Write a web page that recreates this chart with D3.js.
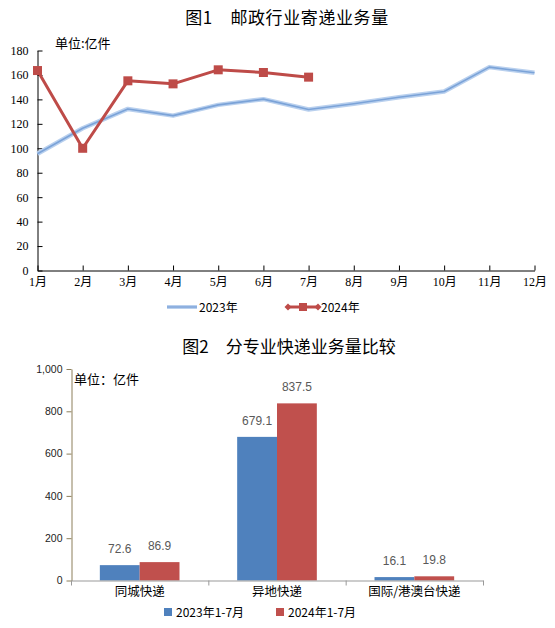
<!DOCTYPE html>
<html>
<head>
<meta charset="utf-8">
<script src="https://cdn.jsdelivr.net/npm/d3@7"></script>
<style>
  html, body { margin: 0; padding: 0; background: #fff; }
  svg { display: block; }
</style>
</head>
<body>
<svg id="chart" width="555" height="628"></svg>
<script>
// 图1 data
const months = ["1月", "2月", "3月", "4月", "5月", "6月", "7月", "8月", "9月", "10月", "11月", "12月"];
const vol2023 = [95.5, 116.4, 132.2, 126.7, 135.5, 140.2, 131.7, 136.4, 141.8, 146.5, 166.4, 161.8];
const vol2024 = [163.6, 100.0, 155.2, 152.7, 164.2, 162.0, 158.2];
const yTicks1 = [0, 20, 40, 60, 80, 100, 120, 140, 160, 180];
const lineNames = ["2023年", "2024年"];

// 图2 data
const categories = ["同城快递", "异地快递", "国际/港澳台快递"];
const bar2023 = [72.6, 679.1, 16.1];
const bar2024 = [86.9, 837.5, 19.8];
const yTicks2 = [0, 200, 400, 600, 800, 1000];
const barNames = ["2023年1-7月", "2024年1-7月"];

const cjk = "'Noto Sans CJK SC', 'Noto Sans', sans-serif";
const serif = "'Liberation Serif', 'Noto Sans CJK SC', serif";
const sans = "'Liberation Sans', 'Noto Sans CJK SC', sans-serif";

const blue = "#4f81bd";
const red = "#c0504d";
const lineRed = "#be4b48";

const svg = d3.select("#chart");

// ---------- chart 1 : line chart ----------
const g1 = svg.append("g");

g1.append("text")
    .attr("x", 287).attr("y", 24)
    .attr("text-anchor", "middle")
    .style("font-family", cjk).style("font-size", "17px")
    .style("letter-spacing", "0.6px")
    .text("图1　邮政行业寄递业务量");

const x1 = d3.scalePoint(months, [37.5, 534.5]);
const y1 = d3.scaleLinear([0, 180], [270.5, 50.5]);

const yAxis1 = g1.append("g")
    .attr("transform", "translate(37.5,0)")
    .call(d3.axisLeft(y1).tickValues(yTicks1).tickSizeInner(-5).tickSizeOuter(0).tickPadding(9));
yAxis1.selectAll("text").style("font-family", serif).style("font-size", "12px").attr("fill", "#000");

const xAxis1 = g1.append("g")
    .attr("transform", "translate(0,270.5)")
    .call(d3.axisBottom(x1).tickSizeInner(-5).tickSizeOuter(0).tickPadding(7));
xAxis1.selectAll("text").style("font-family", serif).style("font-size", "12px").attr("fill", "#000");
g1.selectAll(".domain, .tick line").attr("stroke", "#000");

g1.append("text")
    .attr("x", 55).attr("y", 48)
    .style("font-family", cjk).style("font-size", "13px")
    .text("单位:亿件");

const line1 = d3.line()
    .x((d, i) => x1(months[i]))
    .y(d => y1(d));

// 2023: soft blue line with darker core
g1.append("path").datum(vol2023)
    .attr("d", line1).attr("fill", "none")
    .attr("stroke", "#b9d0ee").attr("stroke-width", 4.5).attr("stroke-linejoin", "round");
g1.append("path").datum(vol2023)
    .attr("d", line1).attr("fill", "none")
    .attr("stroke", "#7ba3d8").attr("stroke-width", 1.6).attr("stroke-linejoin", "round");

// 2024: red line with square markers
g1.append("path").datum(vol2024)
    .attr("d", line1).attr("fill", "none")
    .attr("stroke", lineRed).attr("stroke-width", 3).attr("stroke-linejoin", "round");
g1.selectAll(".m24").data(vol2024).enter().append("rect")
    .attr("class", "m24")
    .attr("x", (d, i) => x1(months[i]) - 4.5)
    .attr("y", d => y1(d) - 4.5)
    .attr("width", 9).attr("height", 9)
    .attr("fill", lineRed);

// legend 1
const leg1 = g1.append("g").attr("transform", "translate(0,307)");
leg1.append("line").attr("x1", 167).attr("x2", 197).attr("y1", 0).attr("y2", 0)
    .attr("stroke", "#b9d0ee").attr("stroke-width", 4);
leg1.append("line").attr("x1", 167).attr("x2", 197).attr("y1", 0).attr("y2", 0)
    .attr("stroke", "#7ba3d8").attr("stroke-width", 1.4);
leg1.append("text").attr("x", 199).attr("y", 4.5)
    .style("font-family", cjk).style("font-size", "12px").text(lineNames[0]);
leg1.append("line").attr("x1", 288).attr("x2", 318).attr("y1", 0).attr("y2", 0)
    .attr("stroke", lineRed).attr("stroke-width", 3);
leg1.selectAll(".dia").data([288, 318]).enter().append("path")
    .attr("d", d => `M${d - 3.5},0L${d},-3.5L${d + 3.5},0L${d},3.5Z`)
    .attr("fill", lineRed);
leg1.append("rect").attr("x", 299).attr("y", -4).attr("width", 8).attr("height", 8).attr("fill", lineRed);
leg1.append("text").attr("x", 321).attr("y", 4.5)
    .style("font-family", cjk).style("font-size", "12px").text(lineNames[1]);

// ---------- chart 2 : grouped bars ----------
const g2 = svg.append("g");

g2.append("text")
    .attr("x", 289).attr("y", 353)
    .attr("text-anchor", "middle")
    .style("font-family", cjk).style("font-size", "17px")
    .text("图2　分专业快递业务量比较");

const x0 = d3.scaleBand(categories, [71, 483]).paddingInner(0.42).paddingOuter(0.21);
const xs = d3.scaleBand([0, 1], [0, x0.bandwidth()]);
const y2 = d3.scaleLinear([0, 1000], [580.5, 369]);

const yAxis2 = g2.append("g")
    .attr("transform", "translate(71.5,0)")
    .call(d3.axisLeft(y2).tickValues(yTicks2).tickFormat(d3.format(",")).tickSizeInner(5).tickSizeOuter(0).tickPadding(4));
yAxis2.selectAll(".domain, .tick line").attr("stroke", "#8c7f5a");
yAxis2.selectAll("text").style("font-family", sans).style("font-size", "10.5px").attr("fill", "#222");

g2.append("text")
    .attr("x", 74).attr("y", 384)
    .style("font-family", cjk).style("font-size", "13px")
    .text("单位：亿件");

const series = [bar2023, bar2024];
const colors = [blue, red];

const groups = g2.selectAll(".grp").data(categories).enter().append("g")
    .attr("class", "grp")
    .attr("transform", c => `translate(${x0(c)},0)`);

series.forEach((s, si) => {
    groups.append("rect")
        .attr("x", xs(si))
        .attr("y", (c, i) => y2(s[i]))
        .attr("width", xs.bandwidth())
        .attr("height", (c, i) => y2(0) - y2(s[i]))
        .attr("fill", colors[si]);
    groups.append("text")
        .attr("x", xs(si) + xs.bandwidth() / 2)
        .attr("y", (c, i) => y2(s[i]) - 12)
        .attr("text-anchor", "middle")
        .style("font-family", sans).style("font-size", "12px")
        .attr("fill", "#595959")
        .text((c, i) => s[i].toFixed(1));
});

// category boundary ticks and baseline
const xb = d3.scaleLinear([0, categories.length], [71, 483]);
const xAxis2 = g2.append("g")
    .attr("transform", "translate(0,580.5)")
    .call(d3.axisBottom(xb).tickValues(d3.range(categories.length + 1)).tickFormat("").tickSizeInner(5).tickSizeOuter(0));
xAxis2.selectAll(".domain, .tick line").attr("stroke", "#999");

const xLab2 = g2.append("g")
    .attr("transform", "translate(0,580.5)")
    .call(d3.axisBottom(x0).tickSize(0).tickPadding(7));
xLab2.select(".domain").remove();
xLab2.selectAll("text").style("font-family", cjk).style("font-size", "12.5px").attr("fill", "#000");

// legend 2
const leg2 = g2.append("g").attr("transform", "translate(0,612)");
const legX = [164, 276];
barNames.forEach((n, i) => {
    leg2.append("rect").attr("x", legX[i]).attr("y", -4).attr("width", 8).attr("height", 8).attr("fill", colors[i]);
    leg2.append("text").attr("x", legX[i] + 12).attr("y", 4.5)
        .style("font-family", cjk).style("font-size", "12px").text(n);
});
</script>
</body>
</html>
